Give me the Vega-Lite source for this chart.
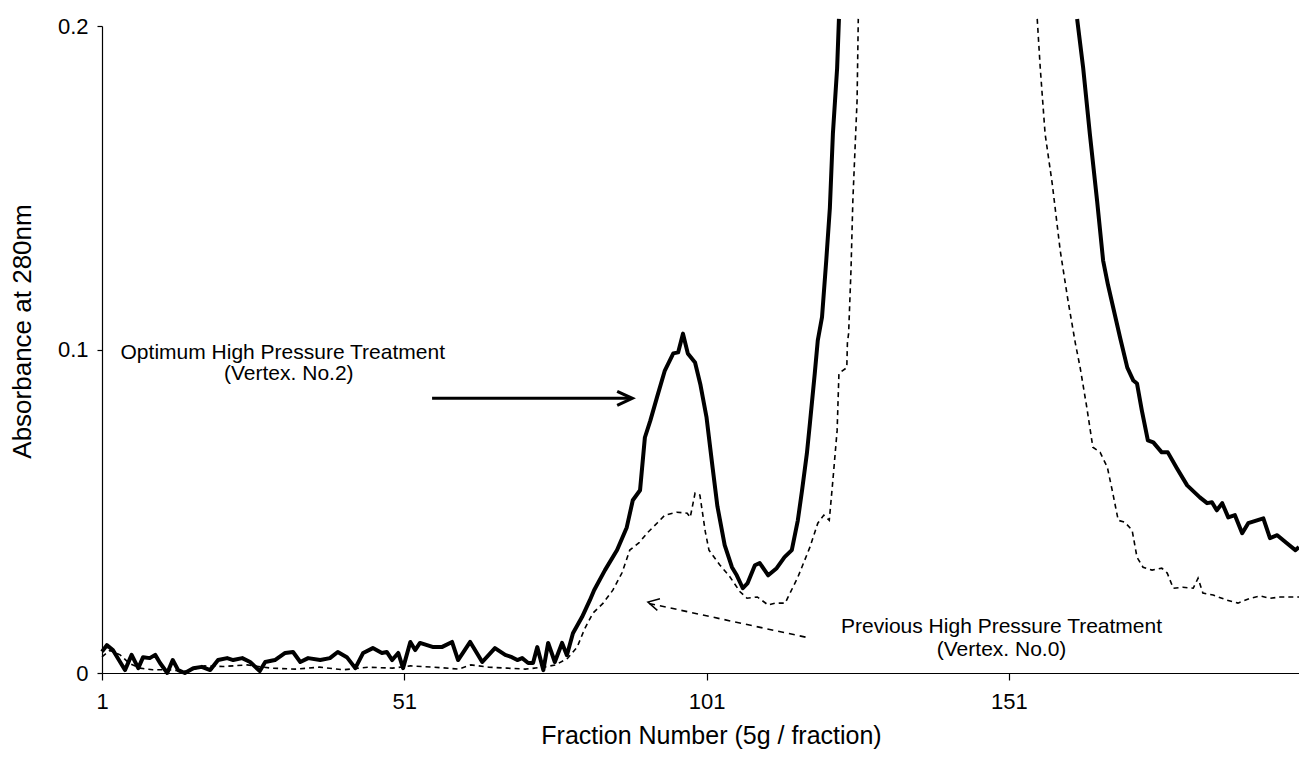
{
  "$schema": "https://vega.github.io/schema/vega-lite/v6.json",
  "autosize": "none",
  "width": 1197,
  "height": 647,
  "padding": {"left": 102, "top": 26, "right": 0, "bottom": 85},
  "background": "white",
  "config": {
    "view": {"stroke": null},
    "font": "Liberation Sans",
    "axis": {"grid": false, "domainColor": "black", "tickColor": "black", "labelColor": "black", "titleColor": "black", "labelFont": "Liberation Sans", "titleFont": "Liberation Sans", "titleFontWeight": "normal", "domainWidth": 1.2, "tickWidth": 1.2}
  },
  "datasets": {
    "curves": [
      {"series":"Optimum","seg":"a","fraction":1.0,"absorbance":0.0066},
      {"series":"Optimum","seg":"a","fraction":1.8,"absorbance":0.0086},
      {"series":"Optimum","seg":"a","fraction":2.8,"absorbance":0.0071},
      {"series":"Optimum","seg":"a","fraction":4.8,"absorbance":0.0009},
      {"series":"Optimum","seg":"a","fraction":5.9,"absorbance":0.0056},
      {"series":"Optimum","seg":"a","fraction":7.0,"absorbance":0.0015},
      {"series":"Optimum","seg":"a","fraction":7.8,"absorbance":0.0049},
      {"series":"Optimum","seg":"a","fraction":8.9,"absorbance":0.0046},
      {"series":"Optimum","seg":"a","fraction":9.8,"absorbance":0.0056},
      {"series":"Optimum","seg":"a","fraction":10.6,"absorbance":0.0031},
      {"series":"Optimum","seg":"a","fraction":11.8,"absorbance":0.0},
      {"series":"Optimum","seg":"a","fraction":12.7,"absorbance":0.004},
      {"series":"Optimum","seg":"a","fraction":13.6,"absorbance":0.0009},
      {"series":"Optimum","seg":"a","fraction":14.7,"absorbance":0.0},
      {"series":"Optimum","seg":"a","fraction":16.1,"absorbance":0.0015},
      {"series":"Optimum","seg":"a","fraction":17.5,"absorbance":0.0019},
      {"series":"Optimum","seg":"a","fraction":18.9,"absorbance":0.0009},
      {"series":"Optimum","seg":"a","fraction":20.2,"absorbance":0.004},
      {"series":"Optimum","seg":"a","fraction":21.7,"absorbance":0.0046},
      {"series":"Optimum","seg":"a","fraction":22.7,"absorbance":0.004},
      {"series":"Optimum","seg":"a","fraction":24.2,"absorbance":0.0046},
      {"series":"Optimum","seg":"a","fraction":25.5,"absorbance":0.0034},
      {"series":"Optimum","seg":"a","fraction":27.1,"absorbance":0.0006},
      {"series":"Optimum","seg":"a","fraction":28.0,"absorbance":0.0034},
      {"series":"Optimum","seg":"a","fraction":29.6,"absorbance":0.004},
      {"series":"Optimum","seg":"a","fraction":31.3,"absorbance":0.0062},
      {"series":"Optimum","seg":"a","fraction":32.6,"absorbance":0.0065},
      {"series":"Optimum","seg":"a","fraction":33.8,"absorbance":0.0034},
      {"series":"Optimum","seg":"a","fraction":35.1,"absorbance":0.0046},
      {"series":"Optimum","seg":"a","fraction":37.1,"absorbance":0.004},
      {"series":"Optimum","seg":"a","fraction":38.7,"absorbance":0.0046},
      {"series":"Optimum","seg":"a","fraction":40.0,"absorbance":0.0065},
      {"series":"Optimum","seg":"a","fraction":41.5,"absorbance":0.0049},
      {"series":"Optimum","seg":"a","fraction":42.9,"absorbance":0.0015},
      {"series":"Optimum","seg":"a","fraction":44.2,"absorbance":0.0062},
      {"series":"Optimum","seg":"a","fraction":45.8,"absorbance":0.0077},
      {"series":"Optimum","seg":"a","fraction":47.3,"absorbance":0.0062},
      {"series":"Optimum","seg":"a","fraction":48.1,"absorbance":0.0065},
      {"series":"Optimum","seg":"a","fraction":49.0,"absorbance":0.004},
      {"series":"Optimum","seg":"a","fraction":50.0,"absorbance":0.0062},
      {"series":"Optimum","seg":"a","fraction":50.8,"absorbance":0.0015},
      {"series":"Optimum","seg":"a","fraction":52.0,"absorbance":0.0096},
      {"series":"Optimum","seg":"a","fraction":52.8,"absorbance":0.0071},
      {"series":"Optimum","seg":"a","fraction":53.6,"absorbance":0.0093},
      {"series":"Optimum","seg":"a","fraction":55.8,"absorbance":0.008},
      {"series":"Optimum","seg":"a","fraction":57.2,"absorbance":0.008},
      {"series":"Optimum","seg":"a","fraction":58.9,"absorbance":0.0096},
      {"series":"Optimum","seg":"a","fraction":59.9,"absorbance":0.004},
      {"series":"Optimum","seg":"a","fraction":60.7,"absorbance":0.0062},
      {"series":"Optimum","seg":"a","fraction":61.9,"absorbance":0.0096},
      {"series":"Optimum","seg":"a","fraction":63.9,"absorbance":0.0034},
      {"series":"Optimum","seg":"a","fraction":66.0,"absorbance":0.0077},
      {"series":"Optimum","seg":"a","fraction":67.7,"absorbance":0.0056},
      {"series":"Optimum","seg":"a","fraction":68.8,"absorbance":0.0049},
      {"series":"Optimum","seg":"a","fraction":69.7,"absorbance":0.004},
      {"series":"Optimum","seg":"a","fraction":70.5,"absorbance":0.0046},
      {"series":"Optimum","seg":"a","fraction":71.5,"absorbance":0.0031},
      {"series":"Optimum","seg":"a","fraction":72.3,"absorbance":0.0031},
      {"series":"Optimum","seg":"a","fraction":73.0,"absorbance":0.008},
      {"series":"Optimum","seg":"a","fraction":74.0,"absorbance":0.0009},
      {"series":"Optimum","seg":"a","fraction":74.8,"absorbance":0.0093},
      {"series":"Optimum","seg":"a","fraction":75.9,"absorbance":0.0034},
      {"series":"Optimum","seg":"a","fraction":77.1,"absorbance":0.0093},
      {"series":"Optimum","seg":"a","fraction":77.9,"absorbance":0.0055},
      {"series":"Optimum","seg":"a","fraction":78.9,"absorbance":0.0123},
      {"series":"Optimum","seg":"a","fraction":80.4,"absorbance":0.0173},
      {"series":"Optimum","seg":"a","fraction":81.7,"absorbance":0.0225},
      {"series":"Optimum","seg":"a","fraction":82.4,"absorbance":0.0256},
      {"series":"Optimum","seg":"a","fraction":84.2,"absorbance":0.0318},
      {"series":"Optimum","seg":"a","fraction":86.2,"absorbance":0.038},
      {"series":"Optimum","seg":"a","fraction":87.8,"absorbance":0.045},
      {"series":"Optimum","seg":"a","fraction":88.8,"absorbance":0.0534},
      {"series":"Optimum","seg":"a","fraction":90.0,"absorbance":0.0565},
      {"series":"Optimum","seg":"a","fraction":90.8,"absorbance":0.0728},
      {"series":"Optimum","seg":"a","fraction":91.7,"absorbance":0.078},
      {"series":"Optimum","seg":"a","fraction":92.8,"absorbance":0.0852},
      {"series":"Optimum","seg":"a","fraction":94.1,"absorbance":0.0935},
      {"series":"Optimum","seg":"a","fraction":95.5,"absorbance":0.0988},
      {"series":"Optimum","seg":"a","fraction":96.3,"absorbance":0.0991},
      {"series":"Optimum","seg":"a","fraction":97.1,"absorbance":0.1049},
      {"series":"Optimum","seg":"a","fraction":97.9,"absorbance":0.0988},
      {"series":"Optimum","seg":"a","fraction":99.1,"absorbance":0.096},
      {"series":"Optimum","seg":"a","fraction":100.0,"absorbance":0.089},
      {"series":"Optimum","seg":"a","fraction":101.0,"absorbance":0.079},
      {"series":"Optimum","seg":"a","fraction":102.0,"absorbance":0.0635},
      {"series":"Optimum","seg":"a","fraction":102.8,"absorbance":0.0515},
      {"series":"Optimum","seg":"a","fraction":104.0,"absorbance":0.0395},
      {"series":"Optimum","seg":"a","fraction":105.2,"absorbance":0.0327},
      {"series":"Optimum","seg":"a","fraction":106.0,"absorbance":0.0302},
      {"series":"Optimum","seg":"a","fraction":107.0,"absorbance":0.0262},
      {"series":"Optimum","seg":"a","fraction":107.8,"absorbance":0.0278},
      {"series":"Optimum","seg":"a","fraction":109.0,"absorbance":0.0333},
      {"series":"Optimum","seg":"a","fraction":109.8,"absorbance":0.034},
      {"series":"Optimum","seg":"a","fraction":111.2,"absorbance":0.0302},
      {"series":"Optimum","seg":"a","fraction":112.6,"absorbance":0.0324},
      {"series":"Optimum","seg":"a","fraction":113.9,"absorbance":0.0358},
      {"series":"Optimum","seg":"a","fraction":115.1,"absorbance":0.038},
      {"series":"Optimum","seg":"a","fraction":116.1,"absorbance":0.0472},
      {"series":"Optimum","seg":"a","fraction":116.8,"absorbance":0.0565},
      {"series":"Optimum","seg":"a","fraction":117.6,"absorbance":0.0679},
      {"series":"Optimum","seg":"a","fraction":118.1,"absorbance":0.0772},
      {"series":"Optimum","seg":"a","fraction":118.9,"absorbance":0.0926},
      {"series":"Optimum","seg":"a","fraction":119.4,"absorbance":0.1028},
      {"series":"Optimum","seg":"a","fraction":120.1,"absorbance":0.11},
      {"series":"Optimum","seg":"a","fraction":120.8,"absorbance":0.1275},
      {"series":"Optimum","seg":"a","fraction":121.4,"absorbance":0.1438},
      {"series":"Optimum","seg":"a","fraction":121.9,"absorbance":0.1667},
      {"series":"Optimum","seg":"a","fraction":122.6,"absorbance":0.187},
      {"series":"Optimum","seg":"a","fraction":122.9,"absorbance":0.2022},
      {"series":"Optimum","seg":"b","fraction":162.3,"absorbance":0.2022},
      {"series":"Optimum","seg":"b","fraction":163.3,"absorbance":0.187},
      {"series":"Optimum","seg":"b","fraction":164.4,"absorbance":0.1667},
      {"series":"Optimum","seg":"b","fraction":165.6,"absorbance":0.146},
      {"series":"Optimum","seg":"b","fraction":166.6,"absorbance":0.1275},
      {"series":"Optimum","seg":"b","fraction":167.4,"absorbance":0.12},
      {"series":"Optimum","seg":"b","fraction":169.4,"absorbance":0.1037},
      {"series":"Optimum","seg":"b","fraction":170.6,"absorbance":0.0944},
      {"series":"Optimum","seg":"b","fraction":171.6,"absorbance":0.0904},
      {"series":"Optimum","seg":"b","fraction":172.2,"absorbance":0.0895},
      {"series":"Optimum","seg":"b","fraction":173.0,"absorbance":0.0812},
      {"series":"Optimum","seg":"b","fraction":174.0,"absorbance":0.0719},
      {"series":"Optimum","seg":"b","fraction":174.9,"absorbance":0.0713},
      {"series":"Optimum","seg":"b","fraction":176.3,"absorbance":0.0682},
      {"series":"Optimum","seg":"b","fraction":177.3,"absorbance":0.0682},
      {"series":"Optimum","seg":"b","fraction":178.8,"absorbance":0.0633},
      {"series":"Optimum","seg":"b","fraction":180.5,"absorbance":0.058},
      {"series":"Optimum","seg":"b","fraction":182.6,"absorbance":0.0543},
      {"series":"Optimum","seg":"b","fraction":183.8,"absorbance":0.0525},
      {"series":"Optimum","seg":"b","fraction":184.6,"absorbance":0.0528},
      {"series":"Optimum","seg":"b","fraction":185.4,"absorbance":0.0503},
      {"series":"Optimum","seg":"b","fraction":186.3,"absorbance":0.0525},
      {"series":"Optimum","seg":"b","fraction":187.3,"absorbance":0.0481},
      {"series":"Optimum","seg":"b","fraction":188.4,"absorbance":0.0488},
      {"series":"Optimum","seg":"b","fraction":189.6,"absorbance":0.0432},
      {"series":"Optimum","seg":"b","fraction":190.6,"absorbance":0.0463},
      {"series":"Optimum","seg":"b","fraction":193.1,"absorbance":0.0478},
      {"series":"Optimum","seg":"b","fraction":194.2,"absorbance":0.0417},
      {"series":"Optimum","seg":"b","fraction":195.4,"absorbance":0.0426},
      {"series":"Optimum","seg":"b","fraction":197.0,"absorbance":0.0401},
      {"series":"Optimum","seg":"b","fraction":198.4,"absorbance":0.038},
      {"series":"Optimum","seg":"b","fraction":199.0,"absorbance":0.0389},
      {"series":"Previous","seg":"a","fraction":1.0,"absorbance":0.005},
      {"series":"Previous","seg":"a","fraction":2.3,"absorbance":0.007},
      {"series":"Previous","seg":"a","fraction":4.0,"absorbance":0.0056},
      {"series":"Previous","seg":"a","fraction":5.5,"absorbance":0.003},
      {"series":"Previous","seg":"a","fraction":7.3,"absorbance":0.0015},
      {"series":"Previous","seg":"a","fraction":9.4,"absorbance":0.001},
      {"series":"Previous","seg":"a","fraction":12.0,"absorbance":0.001},
      {"series":"Previous","seg":"a","fraction":15.0,"absorbance":0.0005},
      {"series":"Previous","seg":"a","fraction":18.0,"absorbance":0.0022},
      {"series":"Previous","seg":"a","fraction":21.0,"absorbance":0.002},
      {"series":"Previous","seg":"a","fraction":25.0,"absorbance":0.0025},
      {"series":"Previous","seg":"a","fraction":29.0,"absorbance":0.0015},
      {"series":"Previous","seg":"a","fraction":33.0,"absorbance":0.0012},
      {"series":"Previous","seg":"a","fraction":37.0,"absorbance":0.0018},
      {"series":"Previous","seg":"a","fraction":41.0,"absorbance":0.001},
      {"series":"Previous","seg":"a","fraction":45.0,"absorbance":0.0018},
      {"series":"Previous","seg":"a","fraction":49.0,"absorbance":0.0015},
      {"series":"Previous","seg":"a","fraction":52.0,"absorbance":0.0022},
      {"series":"Previous","seg":"a","fraction":56.0,"absorbance":0.0018},
      {"series":"Previous","seg":"a","fraction":60.0,"absorbance":0.0012},
      {"series":"Previous","seg":"a","fraction":62.0,"absorbance":0.0025},
      {"series":"Previous","seg":"a","fraction":65.0,"absorbance":0.0018},
      {"series":"Previous","seg":"a","fraction":68.0,"absorbance":0.0015},
      {"series":"Previous","seg":"a","fraction":71.0,"absorbance":0.0012},
      {"series":"Previous","seg":"a","fraction":74.0,"absorbance":0.0018},
      {"series":"Previous","seg":"a","fraction":76.0,"absorbance":0.0025},
      {"series":"Previous","seg":"a","fraction":78.0,"absorbance":0.0045},
      {"series":"Previous","seg":"a","fraction":79.6,"absorbance":0.008},
      {"series":"Previous","seg":"a","fraction":80.8,"absorbance":0.0135},
      {"series":"Previous","seg":"a","fraction":82.2,"absorbance":0.0185},
      {"series":"Previous","seg":"a","fraction":83.9,"absorbance":0.0216},
      {"series":"Previous","seg":"a","fraction":85.5,"absorbance":0.0256},
      {"series":"Previous","seg":"a","fraction":87.0,"absorbance":0.0309},
      {"series":"Previous","seg":"a","fraction":88.3,"absorbance":0.038},
      {"series":"Previous","seg":"a","fraction":89.9,"absorbance":0.0404},
      {"series":"Previous","seg":"a","fraction":91.3,"absorbance":0.0435},
      {"series":"Previous","seg":"a","fraction":92.8,"absorbance":0.0463},
      {"series":"Previous","seg":"a","fraction":94.1,"absorbance":0.0488},
      {"series":"Previous","seg":"a","fraction":96.1,"absorbance":0.0497},
      {"series":"Previous","seg":"a","fraction":97.8,"absorbance":0.0494},
      {"series":"Previous","seg":"a","fraction":98.3,"absorbance":0.0481},
      {"series":"Previous","seg":"a","fraction":99.1,"absorbance":0.0556},
      {"series":"Previous","seg":"a","fraction":99.9,"absorbance":0.055},
      {"series":"Previous","seg":"a","fraction":100.8,"absorbance":0.0436},
      {"series":"Previous","seg":"a","fraction":101.4,"absorbance":0.038},
      {"series":"Previous","seg":"a","fraction":103.2,"absorbance":0.0334},
      {"series":"Previous","seg":"a","fraction":104.8,"absorbance":0.0299},
      {"series":"Previous","seg":"a","fraction":106.5,"absorbance":0.0252},
      {"series":"Previous","seg":"a","fraction":107.7,"absorbance":0.0231},
      {"series":"Previous","seg":"a","fraction":109.4,"absorbance":0.0235},
      {"series":"Previous","seg":"a","fraction":111.2,"absorbance":0.021},
      {"series":"Previous","seg":"a","fraction":112.3,"absorbance":0.0216},
      {"series":"Previous","seg":"a","fraction":114.0,"absorbance":0.0216},
      {"series":"Previous","seg":"a","fraction":114.5,"absorbance":0.0235},
      {"series":"Previous","seg":"a","fraction":116.1,"absorbance":0.0296},
      {"series":"Previous","seg":"a","fraction":118.1,"absorbance":0.0389},
      {"series":"Previous","seg":"a","fraction":119.4,"absorbance":0.0463},
      {"series":"Previous","seg":"a","fraction":120.4,"absorbance":0.0488},
      {"series":"Previous","seg":"a","fraction":121.3,"absorbance":0.0472},
      {"series":"Previous","seg":"a","fraction":121.9,"absorbance":0.0596},
      {"series":"Previous","seg":"a","fraction":122.6,"absorbance":0.075},
      {"series":"Previous","seg":"a","fraction":122.9,"absorbance":0.0926},
      {"series":"Previous","seg":"a","fraction":124.2,"absorbance":0.0944},
      {"series":"Previous","seg":"a","fraction":124.3,"absorbance":0.102},
      {"series":"Previous","seg":"a","fraction":124.5,"absorbance":0.105},
      {"series":"Previous","seg":"a","fraction":124.9,"absorbance":0.125},
      {"series":"Previous","seg":"a","fraction":125.2,"absorbance":0.146},
      {"series":"Previous","seg":"a","fraction":125.9,"absorbance":0.177},
      {"series":"Previous","seg":"a","fraction":126.1,"absorbance":0.2022},
      {"series":"Previous","seg":"b","fraction":155.7,"absorbance":0.2022},
      {"series":"Previous","seg":"b","fraction":156.2,"absorbance":0.187},
      {"series":"Previous","seg":"b","fraction":157.0,"absorbance":0.1667},
      {"series":"Previous","seg":"b","fraction":158.2,"absorbance":0.151},
      {"series":"Previous","seg":"b","fraction":159.5,"absorbance":0.1306},
      {"series":"Previous","seg":"b","fraction":160.8,"absorbance":0.115},
      {"series":"Previous","seg":"b","fraction":162.0,"absorbance":0.102},
      {"series":"Previous","seg":"b","fraction":162.8,"absorbance":0.0944},
      {"series":"Previous","seg":"b","fraction":163.9,"absorbance":0.0821},
      {"series":"Previous","seg":"b","fraction":164.9,"absorbance":0.0698},
      {"series":"Previous","seg":"b","fraction":166.1,"absorbance":0.0682},
      {"series":"Previous","seg":"b","fraction":167.3,"absorbance":0.0636},
      {"series":"Previous","seg":"b","fraction":168.2,"absorbance":0.0556},
      {"series":"Previous","seg":"b","fraction":169.1,"absorbance":0.0472},
      {"series":"Previous","seg":"b","fraction":170.2,"absorbance":0.0466},
      {"series":"Previous","seg":"b","fraction":171.4,"absorbance":0.0441},
      {"series":"Previous","seg":"b","fraction":172.2,"absorbance":0.0358},
      {"series":"Previous","seg":"b","fraction":173.2,"absorbance":0.0327},
      {"series":"Previous","seg":"b","fraction":174.7,"absorbance":0.0318},
      {"series":"Previous","seg":"b","fraction":176.3,"absorbance":0.0324},
      {"series":"Previous","seg":"b","fraction":177.2,"absorbance":0.0309},
      {"series":"Previous","seg":"b","fraction":178.2,"absorbance":0.0262},
      {"series":"Previous","seg":"b","fraction":179.8,"absorbance":0.0265},
      {"series":"Previous","seg":"b","fraction":181.5,"absorbance":0.0262},
      {"series":"Previous","seg":"b","fraction":182.3,"absorbance":0.0293},
      {"series":"Previous","seg":"b","fraction":183.1,"absorbance":0.0247},
      {"series":"Previous","seg":"b","fraction":184.8,"absorbance":0.0241},
      {"series":"Previous","seg":"b","fraction":187.1,"absorbance":0.0225},
      {"series":"Previous","seg":"b","fraction":188.9,"absorbance":0.0216},
      {"series":"Previous","seg":"b","fraction":190.9,"absorbance":0.0231},
      {"series":"Previous","seg":"b","fraction":192.6,"absorbance":0.0238},
      {"series":"Previous","seg":"b","fraction":194.2,"absorbance":0.0231},
      {"series":"Previous","seg":"b","fraction":195.9,"absorbance":0.0235},
      {"series":"Previous","seg":"b","fraction":198.0,"absorbance":0.0235},
      {"series":"Previous","seg":"b","fraction":199.0,"absorbance":0.0235}
    ],
    "labels": [
      {"text":"Optimum High Pressure Treatment","fraction":30.9,"absorbance":0.099},
      {"text":"(Vertex. No.2)","fraction":31.9,"absorbance":0.0925},
      {"text":"Previous High Pressure Treatment","fraction":149.8,"absorbance":0.0142},
      {"text":"(Vertex. No.0)","fraction":149.8,"absorbance":0.0071}
    ],
    "arrows": [
      {"arrow":"opt","fraction":55.6,"absorbance":0.0849},
      {"arrow":"opt","fraction":88.5,"absorbance":0.0849},
      {"arrow":"prev","fraction":118.1,"absorbance":0.0108},
      {"arrow":"prev","fraction":91.5,"absorbance":0.0215}
    ],
    "heads": [
      {"arrow":"opt","fraction":88.7,"absorbance":0.0849},
      {"arrow":"prev","fraction":91.3,"absorbance":0.0219}
    ]
  },
  "encoding": {
    "x": {"field":"fraction","type":"quantitative","scale":{"domain":[1,199],"nice":false,"zero":false},
      "axis":{"values":[1,51,101,151],"title":"Fraction Number (5g / fraction)","labelFontSize":22,"titleFontSize":25,"tickSize":7,"labelPadding":11,"titlePadding":11,"titleX":609,"titleAnchor":"middle","titleAlign":"center","labelFlush":false}},
    "y": {"field":"absorbance","type":"quantitative","scale":{"domain":[0,0.2],"nice":false,"zero":true},
      "axis":{"values":[0,0.1,0.2],"format":".1~f","title":"Absorbance at 280nm","labelFontSize":22,"titleFontSize":26,"tickSize":5,"labelPadding":9,"titleX":-80,"titleY":305,"titleAlign":"center","titleBaseline":"middle","titleAngle":-90}}
  },
  "layer": [
    {"data":{"name":"curves"},"transform":[{"filter":"datum.series === 'Previous'"}],
     "mark":{"type":"line","color":"black","strokeWidth":1.6,"strokeDash":[5,4],"clip":false},
     "encoding":{"detail":{"field":"seg"}}},
    {"data":{"name":"curves"},"transform":[{"filter":"datum.series === 'Optimum'"}],
     "mark":{"type":"line","color":"black","strokeWidth":4,"strokeJoin":"round","clip":false},
     "encoding":{"detail":{"field":"seg"}}},
    {"data":{"name":"arrows"},"transform":[{"filter":"datum.arrow === 'opt'"}],
     "mark":{"type":"line","color":"black","strokeWidth":3},
     "encoding":{}},
    {"data":{"name":"arrows"},"transform":[{"filter":"datum.arrow === 'prev'"}],
     "mark":{"type":"line","color":"black","strokeWidth":1.6,"strokeDash":[6,5]},
     "encoding":{}},
    {"data":{"name":"heads"},"transform":[{"filter":"datum.arrow === 'opt'"}],
     "mark":{"type":"point","shape":"M-3,-1.4L0,0L-3,1.4","size":100,"filled":false,"stroke":"black","strokeWidth":3.2,"opacity":1,"angle":0}},
    {"data":{"name":"heads"},"transform":[{"filter":"datum.arrow === 'prev'"}],
     "mark":{"type":"point","shape":"M-2.2,-1.2L0,0L-2.2,1.2","size":100,"filled":false,"stroke":"black","strokeWidth":1.5,"opacity":1,"angle":192.5}},
    {"data":{"name":"labels"},
     "mark":{"type":"text","font":"Liberation Sans","fontSize":21,"color":"black","align":"center","baseline":"middle"},
     "encoding":{"text":{"field":"text"}}}
  ]
}
